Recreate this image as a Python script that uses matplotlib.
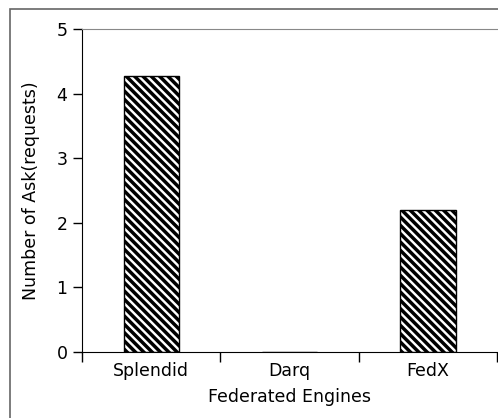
import matplotlib
matplotlib.use("Agg")
import matplotlib.pyplot as plt
from matplotlib.patches import Rectangle

categories = ["Splendid", "Darq", "FedX"]
values = [4.27, 0.0, 2.2]
yticks = [0, 1, 2, 3, 4, 5]

plt.rcParams['hatch.linewidth'] = 2.5
plt.rcParams['font.family'] = ['DejaVu Sans']

fig = plt.figure(figsize=(4.98, 4.18), dpi=100)
W, H = 498, 418
ax = fig.add_axes([82 / W, 1 - 352 / H, (497 - 82) / W, (352 - 29) / H])

x = list(range(len(categories)))
ax.bar(x, values, width=0.4, color="white", edgecolor="black",
       linewidth=1.0, hatch="\\" * 4)

ax.set_xlim(-0.5, len(categories) - 0.5)
ax.set_ylim(0, 5)
ax.set_yticks(yticks)
ax.set_xticks([i - 0.5 for i in range(len(categories) + 1)])
ax.set_xticklabels([])
ax.set_xticks(x, minor=True)
ax.set_xticklabels(categories, minor=True)
ax.tick_params(axis="x", which="minor", length=0, labelsize=12.5, pad=7)
ax.tick_params(axis="x", which="major", length=7, width=1, direction="out")
ax.tick_params(axis="y", length=6.5, width=1, direction="out", labelsize=12.5, pad=4)

ax.spines["right"].set_visible(False)
ax.spines["top"].set_color("#888888")
ax.spines["left"].set_color("black")
ax.spines["bottom"].set_color("black")

ax.set_xlabel("Federated Engines", fontsize=12.5, labelpad=6)
ax.set_ylabel("Number of Ask(requests)", fontsize=12.5, labelpad=12)

fig.patches.append(Rectangle((9.5 / W, -0.1), 1.2, 1 - 9.5 / H + 0.1,
                             transform=fig.transFigure, fill=False,
                             edgecolor="#666666", linewidth=1.2))

fig.savefig("out.png", dpi=100)
